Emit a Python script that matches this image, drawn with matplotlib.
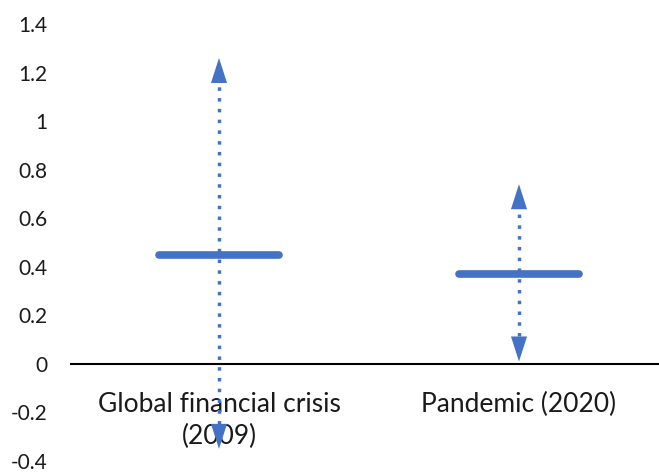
import matplotlib
matplotlib.use("Agg")
import matplotlib.pyplot as plt

categories = ["Global financial crisis\n(2009)", "Pandemic (2020)"]
central = [0.45, 0.37]
upper = [1.26, 0.74]
lower = [-0.35, 0.01]
yticks = [-0.4, -0.2, 0, 0.2, 0.4, 0.6, 0.8, 1, 1.2, 1.4]
ytick_labels = ["-0.4", "-0.2", "0", "0.2", "0.4", "0.6", "0.8", "1", "1.2", "1.4"]

plt.rcParams['font.family'] = ['Lato', 'DejaVu Sans']
BLUE = "#4472C4"

W, H = 659, 472
fig = plt.figure(figsize=(W / 100, H / 100), dpi=100)
left_px, right_px = 70, 659
top_px, bot_px = 24, 461
ax = fig.add_axes([left_px / W, 1 - bot_px / H, (right_px - left_px) / W, (bot_px - top_px) / H])

# x scale: category centres at 219px and 519px
xl = (left_px - 219) / 300
xr = (right_px - 219) / 300
ax.set_xlim(xl, xr)
ax.set_ylim(-0.4, 1.4)

for s in ax.spines.values():
    s.set_visible(False)
ax.axhline(0, color="black", lw=1.5, zorder=1)

ax.set_yticks(yticks)
ax.set_yticklabels(ytick_labels, fontsize=15, color="#1a1a1a")
ax.tick_params(axis="y", length=0, pad=16)
ax.set_xticks([])

head_len = 18  # points
for i, (c, u, l) in enumerate(zip(central, upper, lower)):
    ax.plot([i - 0.2, i + 0.2], [c, c], color=BLUE, lw=5.5, solid_capstyle="round", zorder=3)
    ppu = 243 * 72 / 100  # points per data unit (approx)
    hl = head_len / ppu
    ax.plot([i, i], [l + hl, u - hl], color=BLUE, lw=2.5,
            linestyle=(0, (1, 2.1)), dash_capstyle="butt", zorder=4)
    for tip in (u, l):
        sign = 1 if tip == u else -1
        ax.annotate("", xy=(i, tip), xytext=(0, -sign * head_len), textcoords="offset points",
                    arrowprops=dict(arrowstyle="-|>,head_length=%f,head_width=%f" % (head_len, 5.8),
                                    mutation_scale=1, color=BLUE, lw=0, shrinkA=0, shrinkB=0),
                    zorder=5)
    ax.text(i, -0.115, categories[i], ha="center", va="top", fontsize=19,
            color="#1a1a1a", linespacing=1.33, zorder=2)

fig.savefig("out.png", dpi=100)
